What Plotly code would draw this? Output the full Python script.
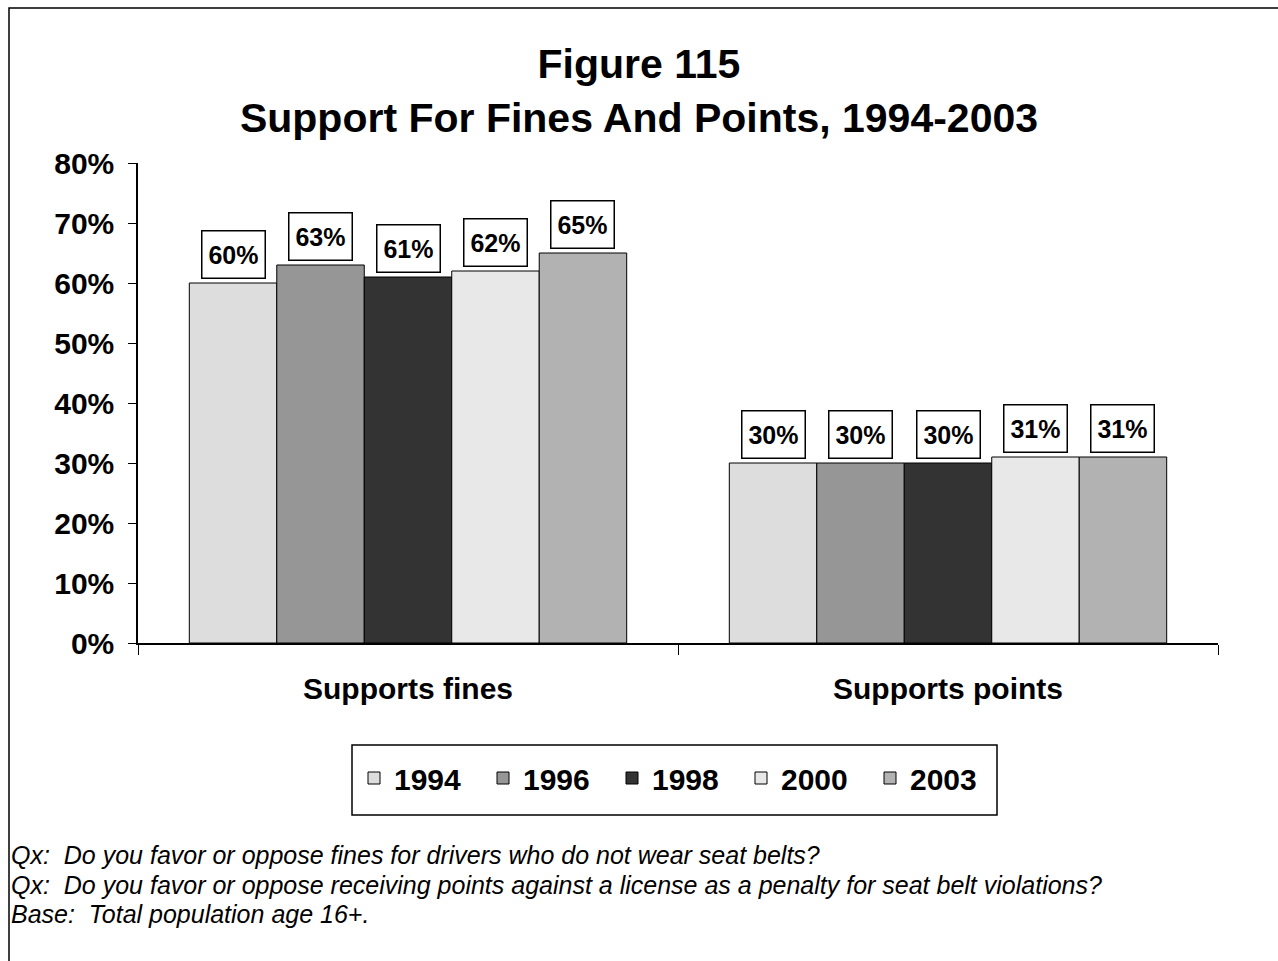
import plotly.graph_objects as go

# Survey results: share supporting each penalty, by survey year
categories = ["Supports fines", "Supports points"]
years = ["1994", "1996", "1998", "2000", "2003"]
values = {
    "1994": [60, 30],
    "1996": [63, 30],
    "1998": [61, 30],
    "2000": [62, 31],
    "2003": [65, 31],
}
colors = {
    "1994": "#DDDDDD",
    "1996": "#969696",
    "1998": "#333333",
    "2000": "#E8E8E8",
    "2003": "#B2B2B2",
}
y_ticks = [0, 10, 20, 30, 40, 50, 60, 70, 80]
footnotes = [
    "Qx:  Do you favor or oppose fines for drivers who do not wear seat belts?",
    "Qx:  Do you favor or oppose receiving points against a license as a penalty for seat belt violations?",
    "Base:  Total population age 16+.",
]

FONT = "Arial, 'Liberation Sans', sans-serif"
W, H = 1278, 961
M_L, M_R, M_T, M_B = 138, 60, 163, 318
plot_w = W - M_L - M_R
plot_h = H - M_T - M_B
BARGAP = 0.19

fig = go.Figure()
for yr in years:
    fig.add_trace(go.Bar(
        name=f"<b>{yr}</b>", x=categories, y=values[yr],
        marker=dict(color=colors[yr], line=dict(color="black", width=1)),
    ))

# Value labels in bordered boxes above each bar
group_px = plot_w / len(categories)
bar_px = group_px * (1 - BARGAP) / len(years)
annotations = []
for i, yr in enumerate(years):
    shift = (i - (len(years) - 1) / 2) * bar_px
    for cat, v in zip(categories, values[yr]):
        annotations.append(dict(
            x=cat, y=v, xref="x", yref="y", xshift=shift, yshift=4,
            text=f"<b>{v}%</b>", showarrow=False, yanchor="bottom",
            font=dict(family=FONT, size=25, color="black"),
            bgcolor="white", bordercolor="black", borderwidth=1.5,
            width=58, height=42, borderpad=2,
        ))


def px_to_paper_x(px):
    return (px - M_L) / plot_w


def px_to_paper_y(py):
    return (H - M_B - py) / plot_h


# Footnotes below the chart
for text, py in zip(footnotes, [855, 885, 914]):
    annotations.append(dict(
        x=px_to_paper_x(9), y=px_to_paper_y(py), xref="paper", yref="paper",
        xanchor="left", yanchor="middle", showarrow=False,
        text=f"<i>{text}</i>", font=dict(family=FONT, size=25, color="black"),
    ))

fig.update_layout(
    width=W, height=H,
    margin=dict(l=M_L, r=M_R, t=M_T, b=M_B),
    paper_bgcolor="white", plot_bgcolor="white",
    barmode="group", bargap=BARGAP, bargroupgap=0,
    title=dict(
        text="<b>Figure 115<br>Support For Fines And Points, 1994-2003</b>",
        x=0.5, xanchor="center", y=0.9186, yanchor="middle",
        font=dict(family=FONT, size=41, color="black"),
    ),
    xaxis=dict(
        showline=True, linecolor="black", linewidth=1.5,
        ticks="outside", tickson="boundaries", ticklen=10, tickcolor="black",
        tickfont=dict(family=FONT, size=30, color="black"),
        ticklabelstandoff=18, showgrid=False,
        tickvals=categories, ticktext=[f"<b>{c}</b>" for c in categories],
    ),
    yaxis=dict(
        range=[0, 80], tickvals=y_ticks, ticktext=[f"<b>{t}%</b>" for t in y_ticks],
        showline=True, linecolor="black", linewidth=1.5,
        ticks="outside", ticklen=8, tickcolor="black",
        tickfont=dict(family=FONT, size=30, color="black"),
        ticklabelstandoff=8, showgrid=False, zeroline=False,
    ),
    legend=dict(
        orientation="h", x=px_to_paper_x(354), xanchor="left",
        y=px_to_paper_y(778), yanchor="middle",
        borderwidth=0, bgcolor="rgba(0,0,0,0)",
        font=dict(family=FONT, size=30, color="black"),
        traceorder="normal", entrywidth=84,
    ),
    annotations=annotations,
    shapes=[
        # outer frame around the whole chart
        dict(
            type="rect", xref="paper", yref="paper", layer="below",
            x0=px_to_paper_x(9), x1=px_to_paper_x(1300),
            y0=px_to_paper_y(990), y1=px_to_paper_y(8),
            line=dict(color="black", width=1.5), fillcolor="rgba(0,0,0,0)",
        ),
        # legend frame
        dict(
            type="rect", xref="paper", yref="paper", layer="below",
            x0=px_to_paper_x(352), x1=px_to_paper_x(997),
            y0=px_to_paper_y(815), y1=px_to_paper_y(745),
            line=dict(color="black", width=1.5), fillcolor="white",
        ),
    ],
)

fig.write_html("out.html")
